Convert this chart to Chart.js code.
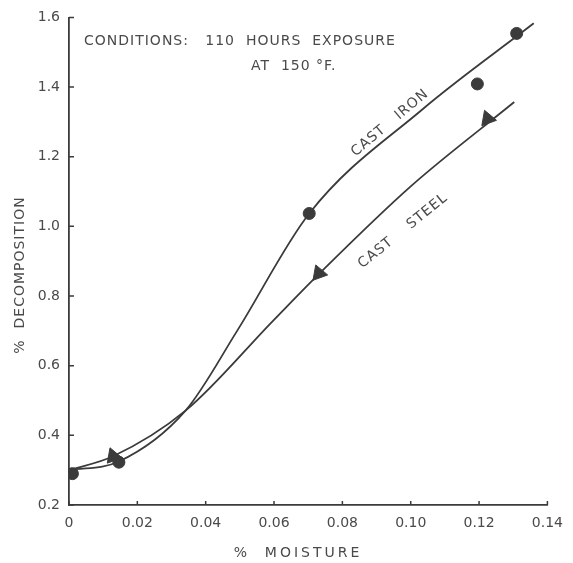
<!DOCTYPE html>
<html>
<head>
<meta charset="utf-8">
<script src="https://cdn.jsdelivr.net/npm/chart.js@4/dist/chart.umd.min.js"></script>
<style>
  body { margin: 0; background: #fff; }
  #grafico { display: block; }
</style>
</head>
<body>
<canvas id="grafico" width="573" height="563"></canvas>
<script>
// measured points (% moisture, % decomposition)
const ironX = [0.001, 0.0146, 0.0703, 0.1195, 0.131];
const ironY = [0.29, 0.323, 1.037, 1.409, 1.554];
const steelX = [0.0129, 0.0731, 0.1225];
const steelY = [0.34, 0.865, 1.309];

// smooth curves as drawn on the original
const ironCurveX = [0, 0.0146, 0.0341, 0.0492, 0.0703, 0.1033, 0.136];
const ironCurveY = [0.30, 0.325, 0.471, 0.70, 1.037, 1.335, 1.583];
const steelCurveX = [0, 0.0129, 0.0341, 0.0597, 0.0731, 0.10, 0.1303];
const steelCurveY = [0.30, 0.34, 0.471, 0.729, 0.863, 1.115, 1.357];

const xTicks = [0, 0.02, 0.04, 0.06, 0.08, 0.10, 0.12, 0.14];
const xTickLabels = ["0", "0.02", "0.04", "0.06", "0.08", "0.10", "0.12", "0.14"];
const yTicks = [0.2, 0.4, 0.6, 0.8, 1.0, 1.2, 1.4, 1.6];
const yTickLabels = ["0.2", "0.4", "0.6", "0.8", "1.0", "1.2", "1.4", "1.6"];

const tinta = "#3b3b3b";
const textoCor = "#4a4a4a";
const fonte = "'DejaVu Sans', sans-serif";

function pares(xs, ys) {
  let out = [];
  for (let i = 0; i < xs.length; i++) {
    out.push({ x: xs[i], y: ys[i] });
  }
  return out;
}

// ticks pointing into the plot, plus the lettering
const extras = {
  id: "extras",
  afterDraw(chart) {
    const ctx = chart.ctx;
    const sx = chart.scales.x;
    const sy = chart.scales.y;
    ctx.save();
    ctx.strokeStyle = tinta;
    ctx.lineWidth = 1.5;
    ctx.beginPath();
    xTicks.forEach(function (v) {
      let px = sx.getPixelForValue(v);
      ctx.moveTo(px, sy.bottom);
      ctx.lineTo(px, sy.bottom - 4);
    });
    yTicks.forEach(function (v) {
      let py = sy.getPixelForValue(v);
      ctx.moveTo(sx.left, py);
      ctx.lineTo(sx.left + 5, py);
    });
    ctx.stroke();

    ctx.fillStyle = textoCor;
    ctx.font = "14px " + fonte;
    ctx.letterSpacing = "1px";
    ctx.textBaseline = "middle";
    ctx.textAlign = "left";
    ctx.fillText("CONDITIONS:   110  HOURS  EXPOSURE", 84, 41);
    ctx.fillText("AT  150 °F.", 251, 66);

    ctx.save();
    ctx.translate(390, 123);
    ctx.rotate(-40 * Math.PI / 180);
    ctx.textAlign = "center";
    ctx.fillText("CAST   IRON", 0, 0);
    ctx.restore();

    ctx.save();
    ctx.translate(403, 231);
    ctx.rotate(-39 * Math.PI / 180);
    ctx.textAlign = "center";
    ctx.fillText("CAST    STEEL", 0, 0);
    ctx.restore();

    ctx.letterSpacing = "3px";
    ctx.textAlign = "center";
    ctx.fillText("%  MOISTURE", 298, 553);

    ctx.save();
    ctx.translate(20, 275);
    ctx.rotate(-Math.PI / 2);
    ctx.letterSpacing = "1px";
    ctx.fillText("%  DECOMPOSITION", 0, 0);
    ctx.restore();

    ctx.restore();
  }
};

const dados = {
  datasets: [
    {
      label: "Cast iron curve",
      data: pares(ironCurveX, ironCurveY),
      showLine: true,
      borderColor: tinta,
      borderWidth: 1.8,
      pointRadius: 0,
      cubicInterpolationMode: "monotone",
    },
    {
      label: "Cast steel curve",
      data: pares(steelCurveX, steelCurveY),
      showLine: true,
      borderColor: tinta,
      borderWidth: 1.8,
      pointRadius: 0,
      cubicInterpolationMode: "monotone",
    },
    {
      label: "Cast iron",
      data: pares(ironX, ironY),
      pointStyle: "circle",
      pointRadius: 6,
      backgroundColor: tinta,
      borderColor: tinta,
    },
    {
      label: "Cast steel",
      data: pares(steelX, steelY),
      pointStyle: "triangle",
      pointRadius: 9,
      pointRotation: -20,
      backgroundColor: tinta,
      borderColor: tinta,
    },
  ],
};

const config = {
  type: "scatter",
  data: dados,
  options: {
    responsive: false,
    animation: false,
    layout: { padding: { top: 15, right: 11, left: 0, bottom: 0 } },
    plugins: {
      legend: { display: false },
      tooltip: { enabled: false },
    },
    scales: {
      x: {
        type: "linear",
        min: 0,
        max: 0.14,
        afterBuildTicks(scale) {
          scale.ticks = xTicks.map(function (v) { return { value: v }; });
        },
        afterFit(scale) { scale.height = 58; },
        grid: { display: false, drawTicks: false },
        border: { color: tinta, width: 1.8 },
        ticks: {
          padding: 10,
          color: textoCor,
          font: { family: fonte, size: 14 },
          callback: function (v) {
            let i = xTicks.indexOf(v);
            return i >= 0 ? xTickLabels[i] : "";
          },
        },
      },
      y: {
        type: "linear",
        min: 0.2,
        max: 1.6,
        afterBuildTicks(scale) {
          scale.ticks = yTicks.map(function (v) { return { value: v }; });
        },
        afterFit(scale) { scale.width = 69; },
        grid: { display: false, drawTicks: false },
        border: { color: tinta, width: 1.8 },
        ticks: {
          padding: 9,
          color: textoCor,
          font: { family: fonte, size: 14 },
          callback: function (v) {
            let i = yTicks.findIndex(function (t) { return Math.abs(t - v) < 1e-9; });
            return i >= 0 ? yTickLabels[i] : "";
          },
        },
      },
    },
  },
  plugins: [extras],
};

let myChart = new Chart(document.getElementById("grafico"), config);
</script>
</body>
</html>
